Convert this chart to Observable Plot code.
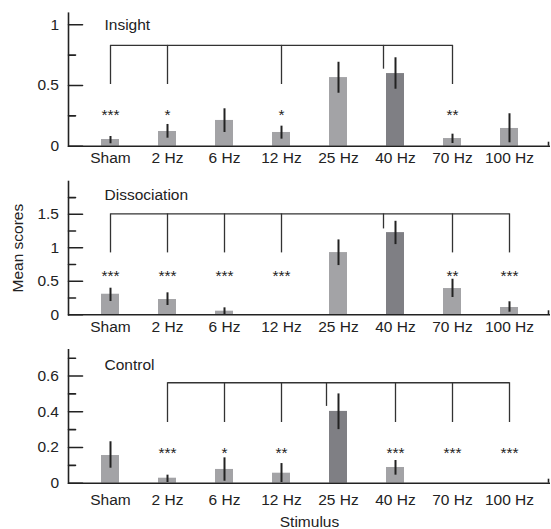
<!DOCTYPE html>
<html>
<head>
<meta charset="utf-8">
<script src="https://cdn.jsdelivr.net/npm/d3@7"></script>
<script src="https://cdn.jsdelivr.net/npm/@observablehq/plot@0.6"></script>
<style>
  html, body { margin: 0; padding: 0; background: #fff; }
  #chart svg { display: block; }
  g[aria-label="stars"] text { letter-spacing: 2.3px; }
</style>
</head>
<body>
<div id="chart"></div>
<script>
// ---- Data ----
const stimuli = ["Sham", "2 Hz", "6 Hz", "12 Hz", "25 Hz", "40 Hz", "70 Hz", "100 Hz"];

// Insight
const insightMean  = [0.055, 0.121, 0.212, 0.113, 0.565, 0.598, 0.063, 0.146];
const insightLow   = [0.020, 0.066, 0.113, 0.058, 0.436, 0.469, 0.022, 0.028];
const insightHigh  = [0.080, 0.179, 0.308, 0.165, 0.691, 0.728, 0.099, 0.267];
const insightStars = ["***", "*", "", "*", "", "", "**", ""];
const insightRef = "40 Hz";
const insightLevels = [0.83, 0.508, 0.634, 0.29]; // bracket, drop end, reference drop end, stars
const insightTicks = [0, 0.5, 1];
const insightMinor = [0.25, 0.75];

// Dissociation
const dissMean  = [0.307, 0.228, 0.054, 0, 0.929, 1.227, 0.392, 0.109];
const dissLow   = [0.198, 0.139, 0.004, null, 0.735, 1.048, 0.258, 0.039];
const dissHigh  = [0.397, 0.328, 0.104, null, 1.118, 1.396, 0.531, 0.194];
const dissStars = ["***", "***", "***", "***", "", "", "**", "***"];
const dissRef = "40 Hz";
const dissLevels = [1.506, 0.924, 1.282, 0.635];
const dissTicks = [0, 0.5, 1, 1.5];
const dissMinor = [0.25, 0.75, 1.25, 1.75];

// Control
const ctrlMean  = [0.155, 0.028, 0.077, 0.056, 0.402, 0.088, 0, 0];
const ctrlLow   = [0.084, 0.004, 0.011, 0.004, 0.300, 0.045, null, null];
const ctrlHigh  = [0.232, 0.045, 0.142, 0.110, 0.500, 0.127, null, null];
const ctrlStars = ["", "***", "*", "**", "", "***", "***", "***"];
const ctrlRef = "25 Hz";
const ctrlLevels = [0.5625, 0.34, 0.43, 0.189];
const ctrlTicks = [0, 0.2, 0.4, 0.6];
const ctrlMinor = [0.1, 0.3, 0.5, 0.7];

// ---- Styling ----
const FONT = '"Liberation Sans", Arial, Helvetica, sans-serif';
const LIGHT = "#a3a3a6";
const DARK = "#7f7f84";
const INK = "#222";
const tickShape = {draw(context, l) { context.moveTo(0, 0); context.lineTo(0, -l); }};

function panel(cfg) {
  const rows = stimuli.map((s, i) => ({
    stim: s, mean: cfg.mean[i], low: cfg.low[i], high: cfg.high[i], stars: cfg.stars[i]
  }));
  const errRows = rows.filter(d => d.low != null);
  const starRows = rows.filter(d => d.stars);
  const [bracketY, dropY, refDropY, starY] = cfg.levels;
  const span = [{a: starRows[0].stim, b: starRows[starRows.length - 1].stim}];

  return Plot.plot({
    width: 551,
    height: cfg.height,
    marginLeft: 68,
    marginRight: 1,
    marginTop: cfg.marginTop,
    marginBottom: cfg.marginBottom,
    style: {fontFamily: FONT, fontSize: "15.5px", color: INK, background: "#fff"},
    x: {domain: stimuli, paddingInner: 0.686, paddingOuter: 0.56, align: 0.5, label: null},
    y: {domain: [0, cfg.yMax], label: null},
    marks: [
      Plot.barY(rows, {x: "stim", y: "mean", fill: d => d.stim === cfg.ref ? DARK : LIGHT}),
      Plot.ruleX(errRows, {x: "stim", y1: "low", y2: "high", stroke: INK, strokeWidth: 2}),
      // significance bracket
      Plot.link(span, {x1: "a", x2: "b", y1: () => bracketY, y2: () => bracketY, stroke: "#333", strokeWidth: 1.3}),
      Plot.ruleX(starRows, {x: "stim", y1: () => dropY, y2: () => bracketY, stroke: "#333", strokeWidth: 1.3}),
      Plot.ruleX([cfg.ref], {x: d => d, y1: () => refDropY, y2: () => bracketY, dx: -12, stroke: "#333", strokeWidth: 1.3}),
      Plot.text(starRows, {x: "stim", y: () => starY, text: "stars", dy: 4, fontSize: 15.5, fill: INK, ariaLabel: "stars"}),
      // panel title
      Plot.text([cfg.title], {frameAnchor: "top-left", textAnchor: "start", lineAnchor: "top", dx: 36, dy: cfg.titleDy, fontSize: 15.5, fill: INK}),
      // axis lines
      Plot.frame({anchor: "left", stroke: INK, strokeWidth: 1.6}),
      Plot.ruleY([0], {stroke: INK, strokeWidth: 1.6}),
      // inward ticks (major and minor)
      Plot.vector(cfg.ticks, {y: d => d, frameAnchor: "left", length: 14, rotate: 90, anchor: "start", shape: tickShape, stroke: INK, strokeWidth: 1.6}),
      Plot.vector(cfg.minor, {y: d => d, frameAnchor: "left", length: 7, rotate: 90, anchor: "start", shape: tickShape, stroke: INK, strokeWidth: 1.6}),
      // tick labels + axis titles
      Plot.axisY({ticks: cfg.ticks, tickSize: 0, tickPadding: 9.5, tickFormat: d => String(d),
        label: cfg.yLabel ?? null, labelAnchor: "center", labelOffset: 57, labelArrow: false}),
      Plot.axisX({tickSize: 0, tickPadding: cfg.xPad,
        label: cfg.xLabel ?? null, labelAnchor: "center", labelOffset: cfg.xLabelOffset ?? 30, labelArrow: false}),
      // small end tick at the right of the x axis line
      Plot.ruleX([stimuli[stimuli.length - 1]], {x: d => d, y1: 0, y2: () => cfg.yMax * 0.03, dx: 39, stroke: INK, strokeWidth: 1.6})
    ]
  });
}

const chart = document.getElementById("chart");
chart.append(panel({
  mean: insightMean, low: insightLow, high: insightHigh, stars: insightStars, ref: insightRef,
  levels: insightLevels, ticks: insightTicks, minor: insightMinor, yMax: 1.095,
  title: "Insight", titleDy: 5.3, height: 170, marginTop: 12.7, marginBottom: 24.3, xPad: 6
}));
chart.append(panel({
  mean: dissMean, low: dissLow, high: dissHigh, stars: dissStars, ref: dissRef,
  levels: dissLevels, ticks: dissTicks, minor: dissMinor, yMax: 1.99,
  title: "Dissociation", titleDy: 7.3, height: 170, marginTop: 11, marginBottom: 25.7, xPad: 5.7,
  yLabel: "Mean scores"
}));
chart.append(panel({
  mean: ctrlMean, low: ctrlLow, high: ctrlHigh, stars: ctrlStars, ref: ctrlRef,
  levels: ctrlLevels, ticks: ctrlTicks, minor: ctrlMinor, yMax: 0.747,
  title: "Control", titleDy: 9, height: 189, marginTop: 9.3, marginBottom: 46.3, xPad: 10.6,
  xLabel: "Stimulus", xLabelOffset: 44
}));
</script>
</body>
</html>
